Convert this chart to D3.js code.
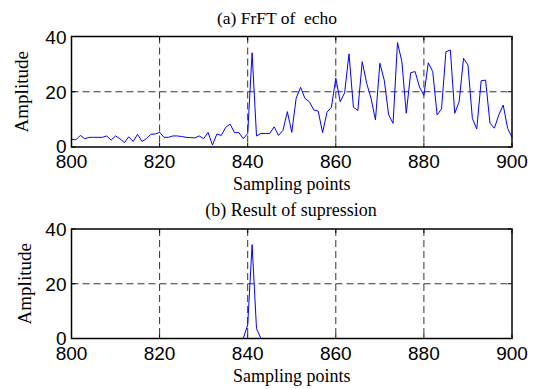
<!DOCTYPE html>
<html>
<head>
<meta charset="utf-8">
<script src="https://cdn.jsdelivr.net/npm/d3@7"></script>
<style>
  body { margin: 0; background: #fff; }
  svg { display: block; }
</style>
</head>
<body>
<div id="chart"></div>
<script>
// sample index runs 800..900
const startSample = 800;

// (a) FrFT of echo amplitudes, samples 800..900
const echoValues = [
  2.8, 2.6, 4.2, 3.0, 3.5, 3.5, 3.5, 3.5, 4.0, 2.5,
  4.0, 3.0, 1.6, 3.7, 2.0, 4.6, 2.0, 3.0, 4.6, 4.7,
  5.3, 3.5, 3.5, 4.0, 4.0, 3.8, 3.5, 3.4, 3.3, 4.0,
  3.0, 5.3, 0.7, 4.7, 4.2, 7.1, 8.3, 5.2, 5.2, 3.0,
  4.9, 34.1, 4.0, 4.9, 4.9, 4.9, 7.3, 4.2, 6.0, 12.8,
  5.3, 17.6, 21.6, 17.6, 16.4, 13.4, 13.0, 5.2, 12.6, 14.4,
  24.9, 16.4, 19.6, 33.7, 14.4, 13.2, 30.9, 23.1, 17.6, 9.8,
  30.3, 24.2, 11.6, 8.6, 37.8, 30.9, 12.2, 26.9, 27.3, 21.7,
  18.7, 30.5, 27.3, 11.6, 13.8, 34.5, 35.1, 12.2, 16.4, 32.1,
  29.7, 10.4, 6.5, 24.0, 24.2, 8.6, 6.8, 11.6, 15.2, 6.8,
  3.5
];

// (b) result of supression: only the peak near 841 remains
const peakSamples = [840, 841, 842];
const peakValues = [5.0, 34.3, 3.6];

const xTicks = [800, 820, 840, 860, 880, 900];
const yTicks = [0, 20, 40];
const xGrid = [820, 840, 860, 880];
const yGrid = [20];

const width = 535, height = 389;
const svg = d3.select("#chart").append("svg")
  .attr("width", width)
  .attr("height", height);

const x = d3.scaleLinear().domain([800, 900]).range([71.5, 512]);

const echoData = echoValues.map((v, i) => ({ s: startSample + i, v }));
const supData = d3.range(800, 901).map(s => {
  const j = peakSamples.indexOf(s);
  return { s, v: j >= 0 ? peakValues[j] : 0 };
});

const serif = "'Liberation Serif', 'Times New Roman', serif";
const sans = "'Liberation Sans', Arial, sans-serif";

function drawPanel(opts) {
  const y = d3.scaleLinear().domain([0, 40]).range([opts.bottom, opts.top]);
  const g = svg.append("g");

  // dashed grid
  g.selectAll("line.gx").data(xGrid).enter().append("line")
    .attr("x1", d => x(d)).attr("x2", d => x(d))
    .attr("y1", opts.top).attr("y2", opts.bottom)
    .attr("stroke", "#333").attr("stroke-width", 1)
    .attr("stroke-dasharray", "7,4");
  g.selectAll("line.gy").data(yGrid).enter().append("line")
    .attr("x1", x.range()[0]).attr("x2", x.range()[1])
    .attr("y1", d => y(d)).attr("y2", d => y(d))
    .attr("stroke", "#333").attr("stroke-width", 1)
    .attr("stroke-dasharray", "7,4");

  // data line
  const line = d3.line().x(d => x(d.s)).y(d => y(d.v));
  g.append("path")
    .datum(opts.data)
    .attr("d", line)
    .attr("fill", "none")
    .attr("stroke", "#0000ff")
    .attr("stroke-width", 1);

  // inward ticks, matlab style
  const tl = 4;
  xTicks.forEach(t => {
    g.append("line").attr("x1", x(t)).attr("x2", x(t))
      .attr("y1", opts.bottom).attr("y2", opts.bottom - tl)
      .attr("stroke", "#000");
    g.append("line").attr("x1", x(t)).attr("x2", x(t))
      .attr("y1", opts.top).attr("y2", opts.top + tl)
      .attr("stroke", "#000");
  });
  yTicks.forEach(t => {
    g.append("line").attr("x1", x.range()[0]).attr("x2", x.range()[0] + tl)
      .attr("y1", y(t)).attr("y2", y(t)).attr("stroke", "#000");
    g.append("line").attr("x1", x.range()[1]).attr("x2", x.range()[1] - tl)
      .attr("y1", y(t)).attr("y2", y(t)).attr("stroke", "#000");
  });

  // box
  g.append("rect")
    .attr("x", x.range()[0]).attr("y", opts.top)
    .attr("width", x.range()[1] - x.range()[0])
    .attr("height", opts.bottom - opts.top)
    .attr("fill", "none").attr("stroke", "#000").attr("stroke-width", 1.5);

  // tick labels
  g.selectAll("text.xt").data(xTicks).enter().append("text")
    .attr("x", d => x(d)).attr("y", opts.bottom + 21)
    .attr("text-anchor", "middle")
    .style("font-family", sans)
    .style("font-size", "19px")
    .text(d => d);
  g.selectAll("text.yt").data(yTicks).enter().append("text")
    .attr("x", x.range()[0] - 5).attr("y", d => y(d) + (d === 0 ? 6 : 7))
    .attr("text-anchor", "end")
    .style("font-family", sans)
    .style("font-size", "19px")
    .text(d => d);

  // title and axis labels
  g.append("text")
    .attr("x", opts.titleX).attr("y", opts.top - 13)
    .attr("text-anchor", "middle")
    .style("white-space", "pre")
    .style("font-family", serif)
    .style("font-size", opts.titleSize)
    .text(opts.title);
  g.append("text")
    .attr("x", (x.range()[0] + x.range()[1]) / 2).attr("y", opts.bottom + 43)
    .attr("text-anchor", "middle")
    .style("font-family", serif)
    .style("font-size", "18px")
    .text("Sampling points");
  g.append("text")
    .attr("transform", `translate(${opts.labelX},${(opts.top + opts.bottom) / 2}) rotate(-90)`)
    .attr("text-anchor", "middle")
    .style("font-family", serif)
    .style("font-size", "19px")
    .text("Amplitude");
}

drawPanel({ top: 36.5, bottom: 147, data: echoData, title: "(a) FrFT of  echo", titleX: 277, titleSize: "17.5px", labelX: 28 });
drawPanel({ top: 229, bottom: 338.5, data: supData, title: "(b) Result of supression", titleX: 291, titleSize: "18px", labelX: 31 });
</script>
</body>
</html>
